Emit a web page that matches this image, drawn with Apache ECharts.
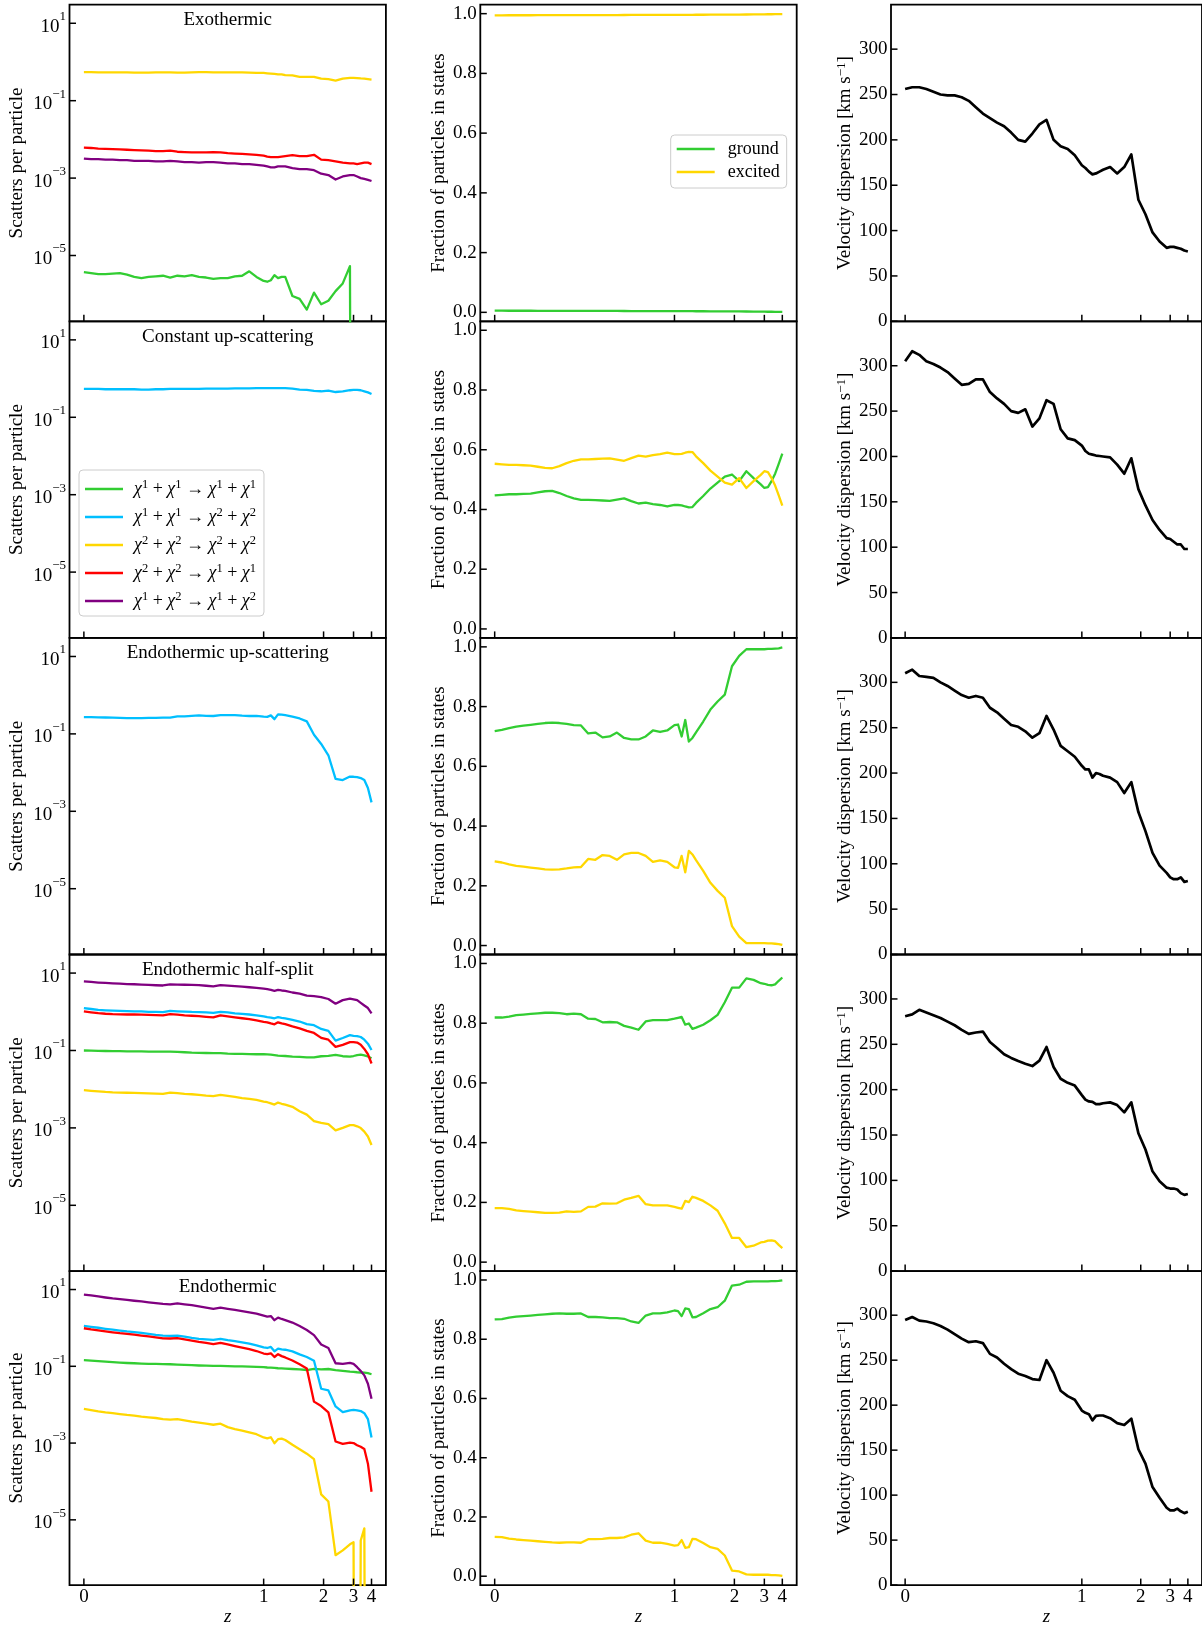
<!DOCTYPE html>
<html>
<head>
<meta charset="utf-8">
<script src="https://cdn.jsdelivr.net/npm/echarts@6/dist/echarts.min.js"></script>
<style>html,body{margin:0;padding:0;background:#fff}#chart{width:1202px;height:1628px}</style>
</head>
<body>
<div id="chart"></div>
<script>
// Snapshot scale factors a = 1/(1+z); the x axis is linear in a (reversed) and labelled in z.
const scaleFactor = [1.00,0.98,0.96,0.94,0.92,0.90,0.88,0.86,0.84,0.82,0.80,0.78,0.76,0.74,0.72,0.70,0.68,0.66,0.64,0.62,0.60,0.58,0.56,0.54,0.52,0.50,0.49,0.48,0.47,0.46,0.45,0.44,0.42,0.40,0.38,0.36,0.34,0.32,0.30,0.28,0.26,0.25,0.24,0.23,0.22,0.21,0.20];
const zTicks = [0, 1, 2, 3, 4];
const logTicks = [-5, -3, -1, 1];
const fracTicks = [0, 0.2, 0.4, 0.6, 0.8, 1.0];
const velTicks = [0, 50, 100, 150, 200, 250, 300];
const panelTitles = ['Exothermic', 'Constant up-scattering', 'Endothermic up-scattering', 'Endothermic half-split', 'Endothermic'];

// ---- Row 1: Exothermic ----
const exoS11_11 = [3.7e-6,3.5e-6,3.3e-6,3.3e-6,3.4e-6,3.5e-6,3.2e-6,2.8e-6,2.6e-6,2.8e-6,2.9e-6,3.0e-6,2.7e-6,3.0e-6,2.9e-6,3.1e-6,2.8e-6,2.7e-6,2.5e-6,2.6e-6,2.6e-6,2.9e-6,3.0e-6,3.9e-6,2.8e-6,2.2e-6,2.1e-6,2.3e-6,3.1e-6,2.6e-6,2.8e-6,2.8e-6,9e-7,7.6e-7,4e-7,1.1e-6,5.5e-7,6.8e-7,1.2e-6,1.9e-6,5.3e-6,0,0,0,0,0,0];
const exoS22_22 = [0.55,0.55,0.54,0.54,0.54,0.54,0.54,0.53,0.53,0.53,0.54,0.54,0.54,0.53,0.53,0.54,0.55,0.55,0.54,0.54,0.54,0.54,0.54,0.53,0.52,0.52,0.51,0.50,0.49,0.48,0.48,0.46,0.45,0.41,0.41,0.41,0.37,0.36,0.33,0.37,0.39,0.39,0.385,0.375,0.37,0.36,0.35];
const exoS22_11 = [0.0061,0.0060,0.0058,0.0057,0.0056,0.0055,0.0054,0.0053,0.0052,0.0051,0.0050,0.0050,0.0051,0.0048,0.0047,0.0046,0.0046,0.0046,0.0047,0.0046,0.0044,0.0043,0.0042,0.0041,0.0040,0.0038,0.0036,0.0035,0.0035,0.0035,0.0036,0.0037,0.0039,0.0037,0.0037,0.0040,0.0030,0.0029,0.0027,0.0025,0.0024,0.0024,0.0023,0.0024,0.0025,0.0025,0.0023];
const exoS12_12 = [0.0032,0.0031,0.0031,0.0030,0.0030,0.0029,0.0029,0.0028,0.0028,0.0028,0.0027,0.0027,0.0028,0.0027,0.0026,0.0026,0.0025,0.0026,0.0026,0.0025,0.0024,0.0024,0.0023,0.0023,0.0022,0.0021,0.0020,0.0019,0.0019,0.0020,0.0020,0.0020,0.0018,0.0017,0.0017,0.0016,0.0013,0.0012,0.00092,0.0011,0.0012,0.0012,0.0011,0.0010,0.00095,0.0009,0.00084];
const exoGround = [0.0055,0.0055,0.0054,0.0054,0.0053,0.0053,0.0052,0.0052,0.0051,0.0050,0.0050,0.0049,0.0049,0.0048,0.0047,0.0047,0.0046,0.0046,0.0045,0.0044,0.0044,0.0043,0.0042,0.0042,0.0041,0.0040,0.0040,0.0039,0.0039,0.0038,0.0038,0.0037,0.0036,0.0035,0.0034,0.0033,0.0032,0.0030,0.0028,0.0026,0.0023,0.0022,0.0020,0.0019,0.0017,0.0015,0.0013];
const exoExcited = [0.9945,0.9945,0.9946,0.9946,0.9947,0.9947,0.9948,0.9948,0.9949,0.9950,0.9950,0.9951,0.9951,0.9952,0.9953,0.9953,0.9954,0.9954,0.9955,0.9956,0.9956,0.9957,0.9958,0.9958,0.9959,0.9960,0.9960,0.9961,0.9961,0.9962,0.9962,0.9963,0.9964,0.9965,0.9966,0.9967,0.9968,0.9970,0.9972,0.9974,0.9977,0.9978,0.9980,0.9981,0.9983,0.9985,0.9987];
const exoSigma = [256,258,258,256,253,250,249,249,247,243,236,229,224,219,215,208,200,198,207,217,222,200,193,190,183,172,169,165,162,163,165,167,170,163,170,184,134,118,98,88,81,82,82,81,80,78,77];

// ---- Row 2: Constant up-scattering ----
const constS11_22 = [0.54,0.54,0.54,0.53,0.53,0.53,0.53,0.53,0.52,0.52,0.53,0.53,0.54,0.54,0.54,0.54,0.54,0.55,0.55,0.55,0.55,0.56,0.56,0.56,0.57,0.57,0.57,0.57,0.57,0.57,0.57,0.57,0.55,0.52,0.51,0.48,0.47,0.49,0.45,0.47,0.50,0.51,0.51,0.50,0.47,0.44,0.40];
const constGround = [0.447,0.449,0.451,0.451,0.452,0.453,0.457,0.461,0.462,0.455,0.445,0.437,0.432,0.432,0.431,0.430,0.429,0.433,0.437,0.428,0.420,0.423,0.418,0.415,0.410,0.415,0.415,0.414,0.410,0.407,0.408,0.422,0.445,0.470,0.490,0.510,0.517,0.495,0.528,0.505,0.484,0.472,0.475,0.495,0.520,0.553,0.587];
const constExcited = [0.553,0.551,0.549,0.549,0.548,0.547,0.543,0.539,0.538,0.545,0.555,0.563,0.568,0.568,0.569,0.570,0.571,0.567,0.563,0.572,0.580,0.577,0.582,0.585,0.590,0.585,0.585,0.586,0.590,0.593,0.592,0.578,0.555,0.530,0.510,0.490,0.483,0.505,0.472,0.495,0.516,0.528,0.525,0.505,0.480,0.447,0.413];
const constSigma = [305,316,312,305,302,298,293,286,279,280,285,285,271,264,258,250,248,252,233,242,262,258,230,220,218,212,206,203,202,201,200.5,200,199,191,181,198,164,146,130,119,110,109,106,103,103,98,98];

// ---- Row 3: Endothermic up-scattering ----
const endoUpS11_22 = [0.272,0.270,0.268,0.265,0.262,0.258,0.255,0.254,0.255,0.258,0.260,0.262,0.264,0.285,0.285,0.293,0.300,0.292,0.290,0.305,0.307,0.305,0.295,0.290,0.292,0.278,0.275,0.300,0.240,0.320,0.315,0.305,0.280,0.250,0.210,0.095,0.055,0.028,0.0069,0.0064,0.0079,0.0078,0.0076,0.0072,0.0064,0.0040,0.0017];
const endoUpGround = [0.718,0.722,0.728,0.733,0.736,0.739,0.742,0.745,0.746,0.745,0.742,0.738,0.737,0.710,0.713,0.697,0.700,0.713,0.695,0.690,0.690,0.700,0.720,0.715,0.720,0.738,0.740,0.700,0.755,0.683,0.695,0.714,0.750,0.790,0.817,0.840,0.935,0.970,0.992,0.992,0.992,0.992,0.993,0.993,0.994,0.995,0.998];
const endoUpExcited = [0.282,0.278,0.272,0.267,0.264,0.261,0.258,0.255,0.254,0.255,0.258,0.262,0.263,0.290,0.287,0.303,0.300,0.287,0.305,0.310,0.310,0.300,0.280,0.285,0.280,0.262,0.260,0.300,0.245,0.317,0.305,0.286,0.250,0.210,0.183,0.160,0.065,0.030,0.008,0.008,0.008,0.008,0.007,0.007,0.006,0.005,0.002];
const endoUpSigma = [310,314,307,306,305,300,296,291,286,283,285,283,272,267,260,253,251,246,239,244,263,248,230,224,218,208,204,204,195,200,199,197,195,190,178,190,157,136,112,98,90,85,83,83,85,80,81];

// ---- Row 4: Endothermic half-split ----
const halfS11_11 = [0.100,0.099,0.098,0.097,0.096,0.096,0.095,0.095,0.095,0.094,0.094,0.094,0.094,0.092,0.090,0.088,0.087,0.086,0.085,0.085,0.083,0.082,0.082,0.081,0.080,0.080,0.079,0.078,0.076,0.074,0.073,0.072,0.069,0.068,0.066,0.066,0.071,0.073,0.077,0.071,0.069,0.072,0.076,0.078,0.075,0.070,0.063];
const halfS11_22 = [1.25,1.18,1.12,1.09,1.07,1.05,1.04,1.03,1.02,1.0,0.99,0.98,1.06,1.03,1.01,0.99,0.98,0.96,0.94,1.0,0.96,0.91,0.88,0.85,0.81,0.76,0.73,0.71,0.68,0.73,0.70,0.68,0.62,0.56,0.48,0.45,0.36,0.32,0.18,0.21,0.25,0.24,0.235,0.223,0.19,0.15,0.103];
const halfS22_22 = [0.0095,0.0091,0.0088,0.0085,0.0083,0.0082,0.0081,0.0080,0.0079,0.0078,0.0077,0.0076,0.0082,0.0079,0.0076,0.0074,0.0071,0.0068,0.0066,0.0071,0.0067,0.0063,0.0059,0.0056,0.0053,0.0048,0.0046,0.0043,0.0040,0.0045,0.0042,0.0040,0.0035,0.0027,0.0022,0.0015,0.00135,0.00125,0.00086,0.00100,0.00118,0.00118,0.00110,0.00099,0.00080,0.00060,0.00036];
const halfS22_11 = [1.03,0.97,0.92,0.89,0.87,0.86,0.85,0.85,0.84,0.83,0.82,0.81,0.87,0.84,0.81,0.79,0.77,0.74,0.716,0.81,0.76,0.716,0.68,0.65,0.60,0.55,0.535,0.50,0.474,0.535,0.50,0.48,0.42,0.372,0.32,0.284,0.212,0.19,0.124,0.14,0.165,0.165,0.16,0.141,0.11,0.08,0.046];
const halfS12_12 = [6.1,5.9,5.7,5.55,5.45,5.35,5.2,5.14,5.05,4.95,4.85,4.78,5.1,5.05,5.0,4.95,4.89,4.7,4.55,4.89,4.75,4.6,4.45,4.3,4.13,3.95,3.84,3.7,3.48,3.66,3.55,3.48,3.15,2.94,2.6,2.54,2.4,2.14,1.62,2.0,2.2,2.1,2.0,1.7,1.45,1.25,0.91];
const halfGround = [0.819,0.819,0.822,0.827,0.829,0.831,0.833,0.835,0.835,0.834,0.830,0.832,0.830,0.815,0.814,0.803,0.804,0.803,0.791,0.785,0.778,0.806,0.810,0.810,0.810,0.815,0.818,0.821,0.795,0.799,0.781,0.785,0.795,0.810,0.828,0.870,0.919,0.919,0.950,0.945,0.934,0.932,0.928,0.927,0.930,0.942,0.953];
const halfExcited = [0.181,0.181,0.178,0.173,0.171,0.169,0.167,0.165,0.165,0.166,0.170,0.168,0.170,0.185,0.186,0.197,0.196,0.197,0.209,0.215,0.222,0.194,0.190,0.190,0.190,0.185,0.182,0.179,0.205,0.201,0.219,0.215,0.205,0.190,0.172,0.130,0.081,0.081,0.050,0.055,0.066,0.068,0.072,0.073,0.070,0.058,0.047];
const halfSigma = [281,283,288,285,282,279,275,271,266,261.5,263,264,252.5,246,239,235,231.5,228.5,226,232,247,225,212,207.5,204.5,194,189,187,186.5,184,184,185,186,183,175,186,152,134,110,99,92,91,91,90,86,84,85];

// ---- Row 5: Endothermic ----
const endoS11_11 = [0.144,0.140,0.136,0.132,0.128,0.125,0.122,0.120,0.118,0.116,0.115,0.114,0.113,0.111,0.109,0.107,0.105,0.104,0.103,0.102,0.101,0.100,0.099,0.098,0.097,0.095,0.093,0.092,0.091,0.089,0.088,0.087,0.085,0.083,0.080,0.086,0.083,0.085,0.079,0.076,0.073,0.072,0.070,0.069,0.068,0.066,0.062];
const endoS11_22 = [1.13,1.07,1.01,0.95,0.90,0.85,0.81,0.78,0.74,0.70,0.66,0.63,0.62,0.63,0.59,0.55,0.52,0.50,0.485,0.52,0.48,0.45,0.42,0.39,0.35,0.31,0.30,0.32,0.246,0.29,0.277,0.27,0.245,0.205,0.175,0.14,0.026,0.0235,0.009,0.0064,0.0071,0.0073,0.0071,0.0068,0.006,0.0042,0.0014];
const endoS22_22 = [0.0078,0.0072,0.0067,0.0063,0.0060,0.0057,0.0054,0.0052,0.0049,0.0047,0.0045,0.0042,0.0041,0.0042,0.0039,0.0036,0.0034,0.0032,0.0030,0.0032,0.0026,0.0023,0.0021,0.0019,0.0017,0.0014,0.00132,0.00142,0.00099,0.00126,0.0013,0.0012,0.0009,0.00069,0.00053,0.00038,0.000046,0.00003,0.0000012,0.0000016,0.0000023,0.0000026,0,0.0000029,0.000006,0,0];
const endoS22_11 = [0.98,0.91,0.86,0.81,0.77,0.73,0.70,0.665,0.63,0.60,0.57,0.535,0.53,0.54,0.50,0.465,0.43,0.405,0.38,0.409,0.37,0.335,0.305,0.28,0.25,0.215,0.207,0.218,0.175,0.207,0.184,0.17,0.142,0.113,0.088,0.012,0.0092,0.0063,0.0011,0.00095,0.00103,0.001,0.00088,0.0008,0.0007,0.00029,0.000054];
const endoS12_12 = [7.36,7.0,6.6,6.2,5.85,5.6,5.35,5.1,4.9,4.65,4.45,4.25,4.1,4.35,4.1,3.9,3.65,3.4,3.15,3.39,3.15,2.95,2.75,2.55,2.35,2.1,1.98,2.03,1.59,1.85,1.71,1.6,1.38,1.12,0.88,0.65,0.37,0.30,0.12,0.115,0.122,0.115,0.095,0.075,0.058,0.035,0.0143];
const endoGround = [0.867,0.868,0.873,0.876,0.878,0.880,0.882,0.884,0.886,0.887,0.886,0.886,0.887,0.875,0.875,0.874,0.871,0.871,0.869,0.860,0.855,0.880,0.887,0.887,0.891,0.897,0.895,0.878,0.904,0.902,0.874,0.875,0.888,0.902,0.908,0.930,0.981,0.984,0.994,0.995,0.995,0.995,0.995,0.996,0.996,0.997,0.999];
const endoExcited = [0.133,0.132,0.127,0.124,0.122,0.120,0.118,0.116,0.114,0.113,0.114,0.114,0.113,0.125,0.125,0.126,0.129,0.129,0.131,0.140,0.145,0.120,0.113,0.113,0.109,0.103,0.105,0.122,0.096,0.098,0.126,0.125,0.112,0.098,0.092,0.070,0.019,0.016,0.006,0.005,0.005,0.005,0.005,0.004,0.004,0.003,0.001];
const endoSigma = [294.6,298,294,293,291,288,284,279,274,270,271,269,257,253,246,240,235,232.5,229,228,250,236,216,210,206,194,191.5,190,183,188,188.5,188.5,185.5,180,178,185,151,135,109,97,86,83,83,85,82,80,81.5];

// ---------------- styling / layout ----------------
const FONT = '"Liberation Serif", "Times New Roman", serif';
const GREEN = '#32CD32', BLUE = '#00BFFF', GOLD = '#FFD700', RED = '#FF0000', PURPLE = '#800080';
const REACTION_COLOR = { r11_11: GREEN, r11_22: BLUE, r22_22: GOLD, r22_11: RED, r12_12: PURPLE };
const REACTION_IDX = { r11_11: ['1','1','1','1'], r11_22: ['1','1','2','2'], r22_22: ['2','2','2','2'], r22_11: ['2','2','1','1'], r12_12: ['1','2','1','2'] };
const reactionOrder = ['r11_11', 'r11_22', 'r22_22', 'r22_11', 'r12_12'];

const panels = [
  { scat: [['r11_11', exoS11_11], ['r22_22', exoS22_22], ['r22_11', exoS22_11], ['r12_12', exoS12_12]], ground: exoGround, excited: exoExcited, sigma: exoSigma },
  { scat: [['r11_22', constS11_22]], ground: constGround, excited: constExcited, sigma: constSigma },
  { scat: [['r11_22', endoUpS11_22]], ground: endoUpGround, excited: endoUpExcited, sigma: endoUpSigma },
  { scat: [['r11_11', halfS11_11], ['r11_22', halfS11_22], ['r22_22', halfS22_22], ['r22_11', halfS22_11], ['r12_12', halfS12_12]], ground: halfGround, excited: halfExcited, sigma: halfSigma },
  { scat: [['r11_11', endoS11_11], ['r11_22', endoS11_22], ['r22_22', endoS22_22], ['r22_11', endoS22_11], ['r12_12', endoS12_12]], ground: endoGround, excited: endoExcited, sigma: endoSigma }
];

const COL_LEFT = [69.5, 480.3, 891];
const COL_W = 316.4;
const ROW_TOP = 4.7, ROW_H = 316.6;
const NROW = 5;
const X_MIN = 0.16, X_MAX = 1.04;
const TICK_LEN = 6.5, TICK_W = 1.5;
const LINE_W = 2.3, SIGMA_W = 2.7;

function supLabel(exp) {
  const s = exp < 0 ? '\u2212' + (-exp) : String(exp);
  return '{b|10}{s|' + s + '}';
}
function reactionLabel(k) {
  const i = REACTION_IDX[k];
  return '{sp| }{c|\u03C7}{s|' + i[0] + '}{o| + }{c|\u03C7}{s|' + i[1] + '}{o| \u2192 }{c|\u03C7}{s|' + i[2] + '}{o| + }{c|\u03C7}{s|' + i[3] + '}';
}

const grids = [], xAxes = [], yAxes = [], series = [], titles = [];
const zVals = zTicks.map(z => 1 / (1 + z));

// inward tick marks, positioned through each grid's own axes
function tickSeries(g, yMin, yTickVals) {
  const data = zVals.map(a => [a, yMin, 0]).concat(yTickVals.map(v => [X_MAX, v, 1]));
  return {
    type: 'custom', xAxisIndex: g, yAxisIndex: g, silent: true, animation: false, clip: false, z: 5,
    encode: { x: 0, y: 1 },
    data: data,
    renderItem: function (params, api) {
      const cs = params.coordSys;
      const p = api.coord([api.value(0), api.value(1)]);
      const kind = api.value(2);
      let shape;
      if (kind === 0) {
        const yb = cs.y + cs.height;
        shape = { x1: p[0], y1: yb, x2: p[0], y2: yb - TICK_LEN };
      } else {
        const xl = cs.x;
        shape = { x1: xl, y1: p[1], x2: xl + TICK_LEN, y2: p[1] };
      }
      return { type: 'line', shape: shape, style: { stroke: '#000', lineWidth: TICK_W } };
    }
  };
}

for (let r = 0; r < NROW; r++) {
  for (let c = 0; c < 3; c++) {
    const g = r * 3 + c;
    grids.push({ left: COL_LEFT[c], top: ROW_TOP + r * ROW_H, width: COL_W, height: ROW_H,
      show: true, borderColor: '#000', borderWidth: 1.8, backgroundColor: 'transparent', containLabel: false });
    const isBottom = r === NROW - 1;
    xAxes.push({
      type: 'value', gridIndex: g, inverse: true, min: X_MIN, max: X_MAX, position: 'bottom',
      axisLine: { show: false, onZero: false }, splitLine: { show: false },
      axisTick: { show: false },
      axisLabel: { show: isBottom, customValues: zVals, margin: 2, color: '#000', fontFamily: FONT, fontSize: 19,
        formatter: v => String(Math.round(1 / v - 1)) },
      name: isBottom ? 'z' : '', nameLocation: 'middle', nameGap: 17,
      nameTextStyle: { fontFamily: FONT, fontStyle: 'italic', fontSize: 19, color: '#000', lineHeight: 20 }
    });
    let y;
    if (c === 0) {
      y = { min: -6.70, max: 1.48, ticks: logTicks, fmt: v => supLabel(v), name: 'Scatters per particle', gap: 42 };
    } else if (c === 1) {
      y = { min: -0.03, max: 1.03, ticks: fracTicks, fmt: v => v.toFixed(1), name: 'Fraction of particles in states', gap: 28.5 };
    } else {
      y = { min: 0, max: 349, ticks: velTicks, fmt: v => String(v), name: '{n|Velocity dispersion [km s}{s|\u22121}{n|]}', gap: 36 };
    }
    yAxes.push({
      type: 'value', gridIndex: g, min: y.min, max: y.max, position: 'left',
      axisLine: { show: false, onZero: false }, splitLine: { show: false },
      axisTick: { show: false },
      axisLabel: { show: true, customValues: y.ticks, margin: 3.5, color: '#000', fontFamily: FONT, fontSize: 19,
        formatter: y.fmt,
        rich: {
          b: { fontFamily: FONT, fontSize: 19, color: '#000', lineHeight: 26, verticalAlign: 'bottom' },
          s: { fontFamily: FONT, fontSize: 13, color: '#000', lineHeight: 13, verticalAlign: 'top' }
        } },
      name: y.name, nameLocation: 'middle', nameGap: y.gap,
      nameTextStyle: { fontFamily: FONT, fontSize: 19, color: '#000', lineHeight: 20,
        rich: {
          n: { fontFamily: FONT, fontSize: 19, color: '#000', lineHeight: 20 },
          s: { fontFamily: FONT, fontSize: 13, color: '#000', lineHeight: 10, verticalAlign: 'top' }
        } }
    });
    series.push(tickSeries(g, y.min, y.ticks));
  }
  titles.push({ text: panelTitles[r], left: COL_LEFT[0] + COL_W / 2, top: ROW_TOP + r * ROW_H + 15.5,
    textAlign: 'center', textVerticalAlign: 'middle', padding: 0,
    textStyle: { fontFamily: FONT, fontSize: 19, fontWeight: 'normal', color: '#000' } });
}

function lineSeries(name, vals, color, g, isLog, width) {
  return {
    type: 'line', name, xAxisIndex: g, yAxisIndex: g,
    showSymbol: false, symbol: 'none', silent: true, animation: false, clip: true,
    lineStyle: { color, width, join: 'round' }, itemStyle: { color },
    emphasis: { disabled: true },
    data: scaleFactor.map((a, i) => [a, isLog ? (vals[i] > 0 ? Math.log10(vals[i]) : -30) : vals[i]])
  };
}

panels.forEach((p, r) => {
  const gL = r * 3, gM = r * 3 + 1, gR = r * 3 + 2;
  p.scat.forEach(([key, vals]) => series.push(lineSeries(key, vals, REACTION_COLOR[key], gL, true, LINE_W)));
  series.push(lineSeries('ground', p.ground, GREEN, gM, false, LINE_W));
  series.push(lineSeries('excited', p.excited, GOLD, gM, false, LINE_W));
  series.push(lineSeries('velocity dispersion', p.sigma, '#000', gR, false, SIGMA_W));
});

const legendBox = { backgroundColor: 'rgba(255,255,255,0.8)', borderColor: '#cccccc', borderWidth: 1, borderRadius: 4, selectedMode: false, icon: 'rect', itemWidth: 38, itemHeight: 2.3, orient: 'vertical' };

const option = {
  backgroundColor: '#ffffff',
  animation: false,
  textStyle: { fontFamily: FONT },
  title: titles,
  grid: grids,
  xAxis: xAxes,
  yAxis: yAxes,
  legend: [
    Object.assign({}, legendBox, {
      left: 79, top: 470, padding: [8, 8, 6, 6], itemGap: 8,
      data: reactionOrder,
      formatter: name => reactionLabel(name),
      textStyle: { color: '#000', fontFamily: FONT, fontSize: 18,
        rich: {
          sp: { width: 6, fontSize: 18, lineHeight: 22 },
          c: { fontFamily: FONT, fontStyle: 'italic', fontSize: 18, lineHeight: 22, color: '#000' },
          o: { fontFamily: FONT, fontSize: 18, lineHeight: 22, color: '#000' },
          s: { fontFamily: FONT, fontSize: 12.5, lineHeight: 11, verticalAlign: 'top', color: '#000' }
        } }
    }),
    Object.assign({}, legendBox, {
      left: 670.7, top: 135, padding: [5, 7, 7, 6], itemGap: 5,
      data: ['ground', 'excited'],
      formatter: name => '{sp| }{t|' + name + '}',
      textStyle: { color: '#000', fontFamily: FONT, fontSize: 18,
        rich: {
          sp: { width: 8, fontSize: 18, lineHeight: 20 },
          t: { fontFamily: FONT, fontSize: 18, lineHeight: 20, color: '#000' }
        } }
    })
  ],
  series: series
};

const chart = echarts.init(document.getElementById('chart'), null, { renderer: 'canvas', width: 1202, height: 1628 });
chart.setOption(option);
</script>
</body>
</html>
